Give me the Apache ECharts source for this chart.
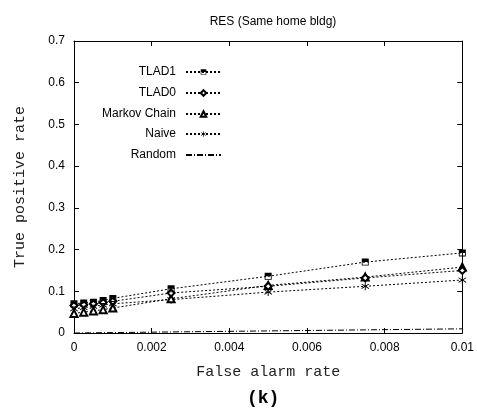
<!DOCTYPE html>
<html>
<head>
<meta charset="utf-8">
<script src="https://cdn.jsdelivr.net/npm/echarts@6/dist/echarts.min.js"></script>
<style>
  html, body { margin: 0; padding: 0; background: #fff; }
  #chart { width: 477px; height: 409px; }
</style>
</head>
<body>
<div id="chart"></div>
<script>
// False alarm rate sample points
const falseAlarm = [0, 0.00025, 0.0005, 0.00075, 0.001, 0.0025, 0.005, 0.0075, 0.01];

// True positive rate per method
const tlad1  = [0.070, 0.072, 0.074, 0.078, 0.083, 0.106, 0.136, 0.170, 0.192];
const tlad0  = [0.066, 0.068, 0.070, 0.073, 0.076, 0.096, 0.112, 0.132, 0.150];
const markov = [0.047, 0.050, 0.053, 0.056, 0.060, 0.082, 0.114, 0.134, 0.158];
const naive  = [0.058, 0.061, 0.064, 0.067, 0.070, 0.080, 0.098, 0.112, 0.127];
const random = [0, 0.00025, 0.0005, 0.00075, 0.001, 0.0025, 0.005, 0.0075, 0.01];

const seriesNames = ['TLAD1', 'TLAD0', 'Markov Chain', 'Naive', 'Random'];

const pairs = ys => falseAlarm.map((x, i) => [x, ys[i]]);

// half-filled square and asterisk markers
const halfSquare = 'path://M0,0H10V10H0Z M1.2,5V8.8H8.8V5Z';
const asterisk = 'path://M4.5,0H5.5V4.1L8.6,1.7L9.2,2.5L6.1,5L9.2,7.5L8.6,8.3L5.5,5.9V10H4.5V5.9L1.4,8.3L0.8,7.5L3.9,5L0.8,2.5L1.4,1.7L4.5,4.1Z';

const labelFont = { fontFamily: 'Liberation Sans', fontSize: 12, color: '#000' };
const monoFont = { fontFamily: 'Liberation Mono', fontSize: 15, color: '#222' };

const dotted = { color: '#000', width: 1, type: [2, 2] };

function fmt(v) {
  if (v === 0) return '0';
  return String(+v.toFixed(3));
}

function axis(extra) {
  return Object.assign({
    type: 'value',
    axisLine: { show: true, onZero: false, lineStyle: { color: '#000', width: 1 } },
    axisTick: { show: true, inside: true, length: 5, lineStyle: { color: '#000' } },
    splitLine: { show: false }
  }, extra);
}

const chart = echarts.init(document.getElementById('chart'), null, { renderer: 'canvas' });

const legendRows = [61, 82, 103, 123, 144];

chart.setOption({
  animation: false,
  backgroundColor: '#fff',
  title: {
    text: 'RES (Same home bldg)',
    left: 268, top: 11, textAlign: 'center',
    textStyle: { fontFamily: 'Liberation Sans', fontSize: 12, fontWeight: 'normal', color: '#000' }
  },
  graphic: [{
    type: 'text',
    left: 247, top: 389,
    style: { text: '(k)', font: 'bold 18px "Liberation Mono"', fill: '#000' }
  }],
  legend: seriesNames.map((n, i) => ({
    data: [n],
    orient: 'vertical',
    right: 250,
    top: legendRows[i],
    align: 'right',
    itemWidth: 35,
    itemHeight: 7,
    selectedMode: false,
    itemStyle: n === 'Random' ? { opacity: 0 } : undefined,
    textStyle: { fontFamily: 'Liberation Sans', fontSize: 12, color: '#000', padding: [0, 5, 0, 0] }
  })),
  grid: { left: 74, right: 14, top: 41, bottom: 76 },
  xAxis: [
    axis({
      min: 0, max: 0.01, interval: 0.002,
      name: 'False alarm rate', nameLocation: 'middle', nameGap: 32,
      nameTextStyle: monoFont,
      axisLabel: Object.assign({}, labelFont, { margin: 9, formatter: fmt })
    }),
    axis({
      min: 0, max: 0.01, interval: 0.002, position: 'top',
      axisLabel: { show: false }
    })
  ],
  yAxis: [
    axis({
      min: 0, max: 0.7, interval: 0.1,
      name: 'True positive rate', nameLocation: 'middle', nameGap: 46,
      nameTextStyle: monoFont,
      axisLabel: Object.assign({}, labelFont, { margin: 9, formatter: fmt })
    }),
    axis({
      min: 0, max: 0.7, interval: 0.1, position: 'right',
      axisLabel: { show: false }
    })
  ],
  series: [
    {
      name: 'TLAD1', type: 'line', data: pairs(tlad1),
      symbol: halfSquare, symbolSize: 7,
      itemStyle: { color: '#000' }, lineStyle: dotted, z: 5
    },
    {
      name: 'TLAD0', type: 'line', data: pairs(tlad0),
      symbol: 'emptyDiamond', symbolSize: 7,
      itemStyle: { color: '#000', borderColor: '#000', borderWidth: 0.8 }, lineStyle: dotted, z: 4
    },
    {
      name: 'Markov Chain', type: 'line', data: pairs(markov),
      symbol: 'emptyTriangle', symbolSize: 7,
      itemStyle: { color: '#000', borderColor: '#000', borderWidth: 0.8 }, lineStyle: dotted, z: 3
    },
    {
      name: 'Naive', type: 'line', data: pairs(naive),
      symbol: asterisk, symbolSize: 8,
      itemStyle: { color: '#000' }, lineStyle: dotted, z: 2
    },
    {
      name: 'Random', type: 'line', data: pairs(random),
      showSymbol: false, symbol: 'none',
      itemStyle: { color: '#000' },
      lineStyle: { color: '#000', width: 1, type: [6, 2, 1, 2] }, z: 1
    }
  ]
});
</script>
</body>
</html>
